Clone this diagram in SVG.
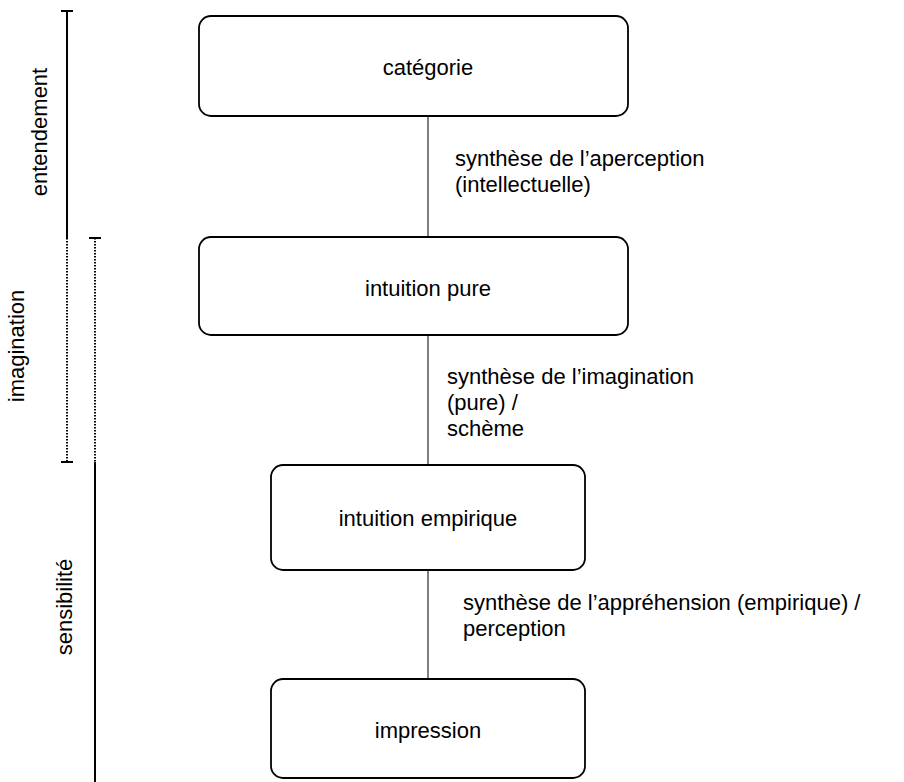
<svg xmlns="http://www.w3.org/2000/svg" width="904" height="782" viewBox="0 0 904 782">
<style>
text{font-family:"Liberation Sans",Arial,sans-serif;font-size:22px;fill:#000}
.box{fill:#fff;stroke:#000;stroke-width:1.8}
.c{text-anchor:middle}
.conn{stroke:#000;stroke-width:1;fill:none}
.br{stroke:#000;stroke-width:2;fill:none}
.dot{stroke:#000;stroke-width:2;fill:none;stroke-dasharray:1.5 1.5}
</style>
<rect width="904" height="782" fill="#fff"/>
<g id="connectors">
<line class="conn" x1="428" y1="116" x2="428" y2="237"/>
<line class="conn" x1="428" y1="335" x2="428" y2="465"/>
<line class="conn" x1="428" y1="570" x2="428" y2="679"/>
<text x="455" y="166">synthèse de l’aperception</text>
<text x="455" y="192">(intellectuelle)</text>
<text x="447" y="384">synthèse de l’imagination</text>
<text x="447" y="410">(pure) /</text>
<text x="447" y="436">schème</text>
<text x="463" y="610">synthèse de l’appréhension (empirique) /</text>
<text x="463" y="636">perception</text>
</g>
<g id="categorie"><rect class="box" x="199" y="16" width="429" height="100" rx="12"/><text class="c" x="428" y="75">catégorie</text></g>
<g id="intuition-pure"><rect class="box" x="199" y="237" width="429" height="98" rx="12"/><text class="c" x="428" y="296">intuition pure</text></g>
<g id="intuition-empirique"><rect class="box" x="271" y="465" width="314" height="105" rx="12"/><text class="c" x="428" y="526">intuition empirique</text></g>
<g id="impression"><rect class="box" x="271" y="679" width="314" height="99" rx="12"/><text class="c" x="428" y="738">impression</text></g>
<g id="brackets">
<line class="br" x1="67" y1="11" x2="67" y2="238"/>
<line class="br" x1="61" y1="11" x2="73" y2="11"/>
<line class="dot" x1="67" y1="238" x2="67" y2="462"/>
<line class="br" x1="61" y1="462" x2="73" y2="462"/>
<line class="br" x1="89" y1="238" x2="101" y2="238"/>
<line class="dot" x1="95" y1="238" x2="95" y2="462"/>
<line class="br" x1="95" y1="462" x2="95" y2="782"/>
<text class="c" transform="translate(47 132) rotate(-90)">entendement</text>
<text class="c" transform="translate(24 346) rotate(-90)">imagination</text>
<text class="c" transform="translate(72 607) rotate(-90)">sensibilité</text>
</g>
</svg>
